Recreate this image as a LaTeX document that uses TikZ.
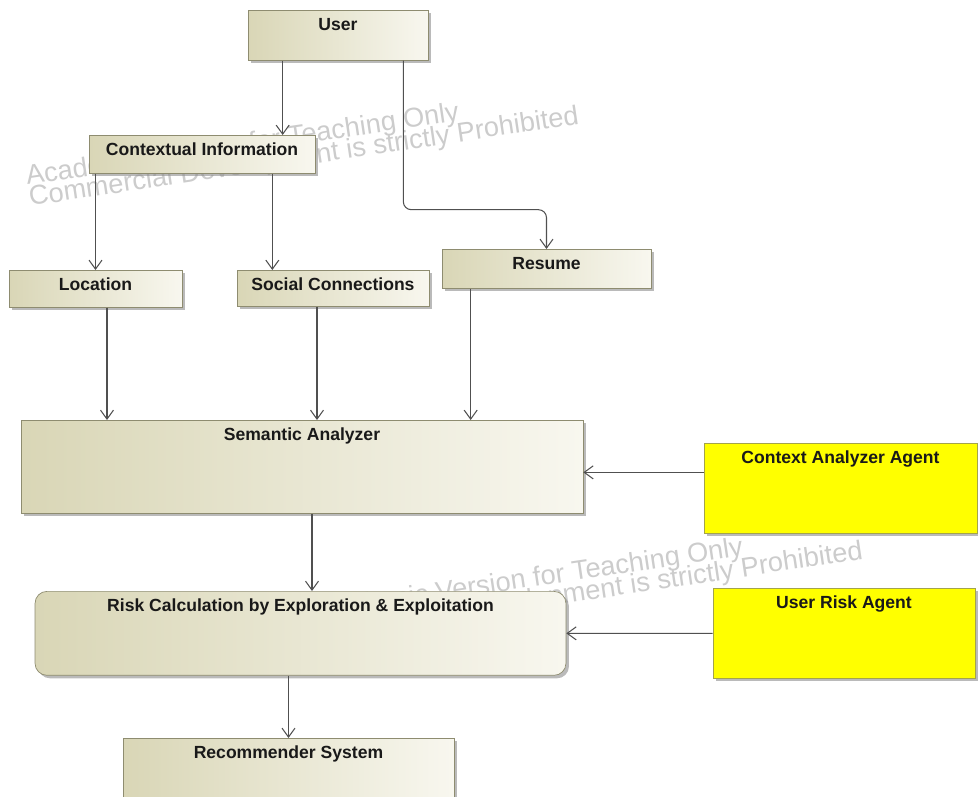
\documentclass[tikz,border=0pt]{standalone}
\usepackage{fontspec}
\setmainfont{Liberation Sans}
\usetikzlibrary{arrows.meta,shadows}

\definecolor{boxleft}{HTML}{D9D6B6}
\definecolor{boxright}{HTML}{F8F7EF}
\definecolor{boxline}{HTML}{8E8C70}
\definecolor{agentfill}{HTML}{FFFF00}
\definecolor{agentline}{HTML}{A3A34C}
\definecolor{wiregray}{HTML}{505050}
\definecolor{markgray}{HTML}{CCCCCC}

\tikzstyle{block} = [rectangle, anchor=north, inner sep=0pt, text height=0.4cm, text=black!90, font=\fontsize{10}{12}\selectfont\bfseries, drop shadow={shadow xshift=0.06cm, shadow yshift=-0.06cm, fill=black!45, opacity=0.6}]
\tikzstyle{box} = [block, draw=boxline, left color=boxleft, right color=boxright]
\tikzstyle{agent} = [block, draw=agentline, fill=agentfill]
\tikzstyle{arrow} = [draw=wiregray, line width=0.6pt, -{Straight Barb[length=0.18cm, width=0.26cm]}]
\tikzstyle{watermark} = [anchor=base west, rotate=8.5, inner sep=0pt, text=markgray, font=\fontsize{15.5}{18}\selectfont]

\begin{document}
\begin{tikzpicture}[x=0.02cm, y=-0.02cm]
    \useasboundingbox (0,0) rectangle (978,796);

    % watermark behind everything
    \node (markA1) [watermark] at (27,185) {Academic Version for Teaching Only};
    \node (markA2) [watermark] at (30,206) {Commercial Development is strictly Prohibited};
    \node (markB1) [watermark] at (311,620) {Academic Version for Teaching Only};
    \node (markB2) [watermark] at (314,641) {Commercial Development is strictly Prohibited};

    \node (user) [box, minimum width=3.6cm, text depth=0.6cm] at (338,10) {User};
    \node (ctx) [box, minimum width=4.52cm, text depth=0.36cm] at (202,135) {Contextual Information};
    \node (loc) [box, minimum width=3.46cm, text depth=0.34cm] at (95.5,270) {Location};
    \node (social) [box, minimum width=3.84cm, text depth=0.32cm] at (333,270) {Social Connections};
    \node (resume) [box, minimum width=4.18cm, text depth=0.38cm] at (546.5,249) {Resume};
    \node (sem) [box, minimum width=11.24cm, text depth=1.46cm] at (302,420) {Semantic Analyzer};
    \node (caa) [agent, minimum width=5.46cm, text depth=1.4cm] at (840.5,443) {Context Analyzer Agent};
    \node (risk) [box, rounded corners=0.24cm, minimum width=10.62cm, text depth=1.28cm] at (300.5,591) {Risk Calculation by Exploration \& Exploitation};
    \node (ura) [agent, minimum width=5.24cm, text depth=1.4cm] at (844,588) {User Risk Agent};
    \node (rec) [box, minimum width=6.62cm, text depth=0.84cm] at (288.5,738) {Recommender System};

    \draw[arrow] ([xshift=0.7cm]user.south west) -- ([xshift=0.7cm]user.south west |- ctx.north);
    \draw[arrow, rounded corners=0.16cm] ([xshift=-0.5cm]user.south east) -- ++(0,149) -| (resume.north);
    \draw[arrow] (loc.north |- ctx.south) -- (loc.north);
    \draw[arrow] ([xshift=-0.86cm]ctx.south east) -- ([xshift=-0.86cm]ctx.south east |- social.north);
    \draw[arrow] ([xshift=0.23cm]loc.south) -- ([xshift=0.23cm]loc.south |- sem.north);
    \draw[arrow] ([xshift=-0.32cm]social.south) -- ([xshift=-0.32cm]social.south |- sem.north);
    \draw[arrow] ([xshift=0.58cm]resume.south west) -- ([xshift=0.58cm]resume.south west |- sem.north);
    \draw[arrow] ([yshift=0.32cm]caa.west) -- ([yshift=0.32cm]caa.west -| sem.east);
    \draw[arrow] ([xshift=0.2cm]sem.south) -- ([xshift=0.2cm]sem.south |- risk.north);
    \draw[arrow] (ura.west) -- (risk.east);
    \draw[arrow] (rec.north |- risk.south) -- (rec.north);
\end{tikzpicture}
\end{document}
